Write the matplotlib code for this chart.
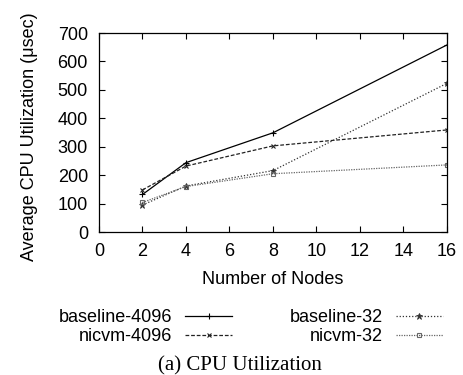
import matplotlib
matplotlib.use('Agg')
import matplotlib.pyplot as plt

nodes = [2, 4, 8, 16]
baseline_4096 = [132, 244, 349, 658]
nicvm_4096 = [148, 232, 303, 359]
baseline_32 = [95, 162, 216, 523]
nicvm_32 = [104, 160, 205, 236]

plt.rcParams['font.family'] = ['Liberation Sans', 'DejaVu Sans']

fig = plt.figure(figsize=(4.63, 3.75), dpi=100)
ax = fig.add_axes([0.2138, 0.3813, 0.7516, 0.5307])

ax.plot(nodes, baseline_4096, color='black', lw=0.9, ls='-', marker='+', ms=4, mew=0.8,
        label='baseline-4096')
ax.plot(nodes, nicvm_4096, color='#222222', lw=0.9, ls=(0, (3, 1.5)), marker='x', ms=3.5, mew=0.8,
        label='nicvm-4096')
ax.plot(nodes, baseline_32, color='#333333', lw=0.9, ls=(0, (1, 1.5)), marker='*', ms=4.5, mew=0.6,
        label='baseline-32')
ax.plot(nodes, nicvm_32, color='#666666', lw=0.9, ls=(0, (1, 1)), marker='s', ms=3.5, mew=0.8,
        mfc='none', label='nicvm-32')

ax.set_xlim(0, 16)
ax.set_ylim(0, 700)
ax.set_xticks(range(0, 17, 2))
ax.set_yticks(range(0, 701, 100))
ax.tick_params(direction='in', top=True, right=True, labelsize=13, length=4, width=0.8, pad=8)
for s in ax.spines.values():
    s.set_linewidth(0.9)

ax.set_xlabel('Number of Nodes', fontsize=13)
ax.set_ylabel('Average CPU Utilization (\u03bcsec)', fontsize=13)
ax.xaxis.set_label_coords(0.5, -0.198)
ax.yaxis.set_label_coords(-0.176, 0.48)

ax.legend(loc='center', bbox_to_anchor=(0.542, 0.128), bbox_transform=fig.transFigure,
          ncol=2, frameon=False, markerfirst=False, fontsize=13, handlelength=2.6,
          columnspacing=3.2, labelspacing=0.1, handletextpad=0.7, borderpad=0)

fig.text(0.518, 0.024, '(a) CPU Utilization', ha='center', va='center', fontsize=15,
         family=['Liberation Serif', 'DejaVu Serif'])

fig.savefig('out.png', dpi=100)
